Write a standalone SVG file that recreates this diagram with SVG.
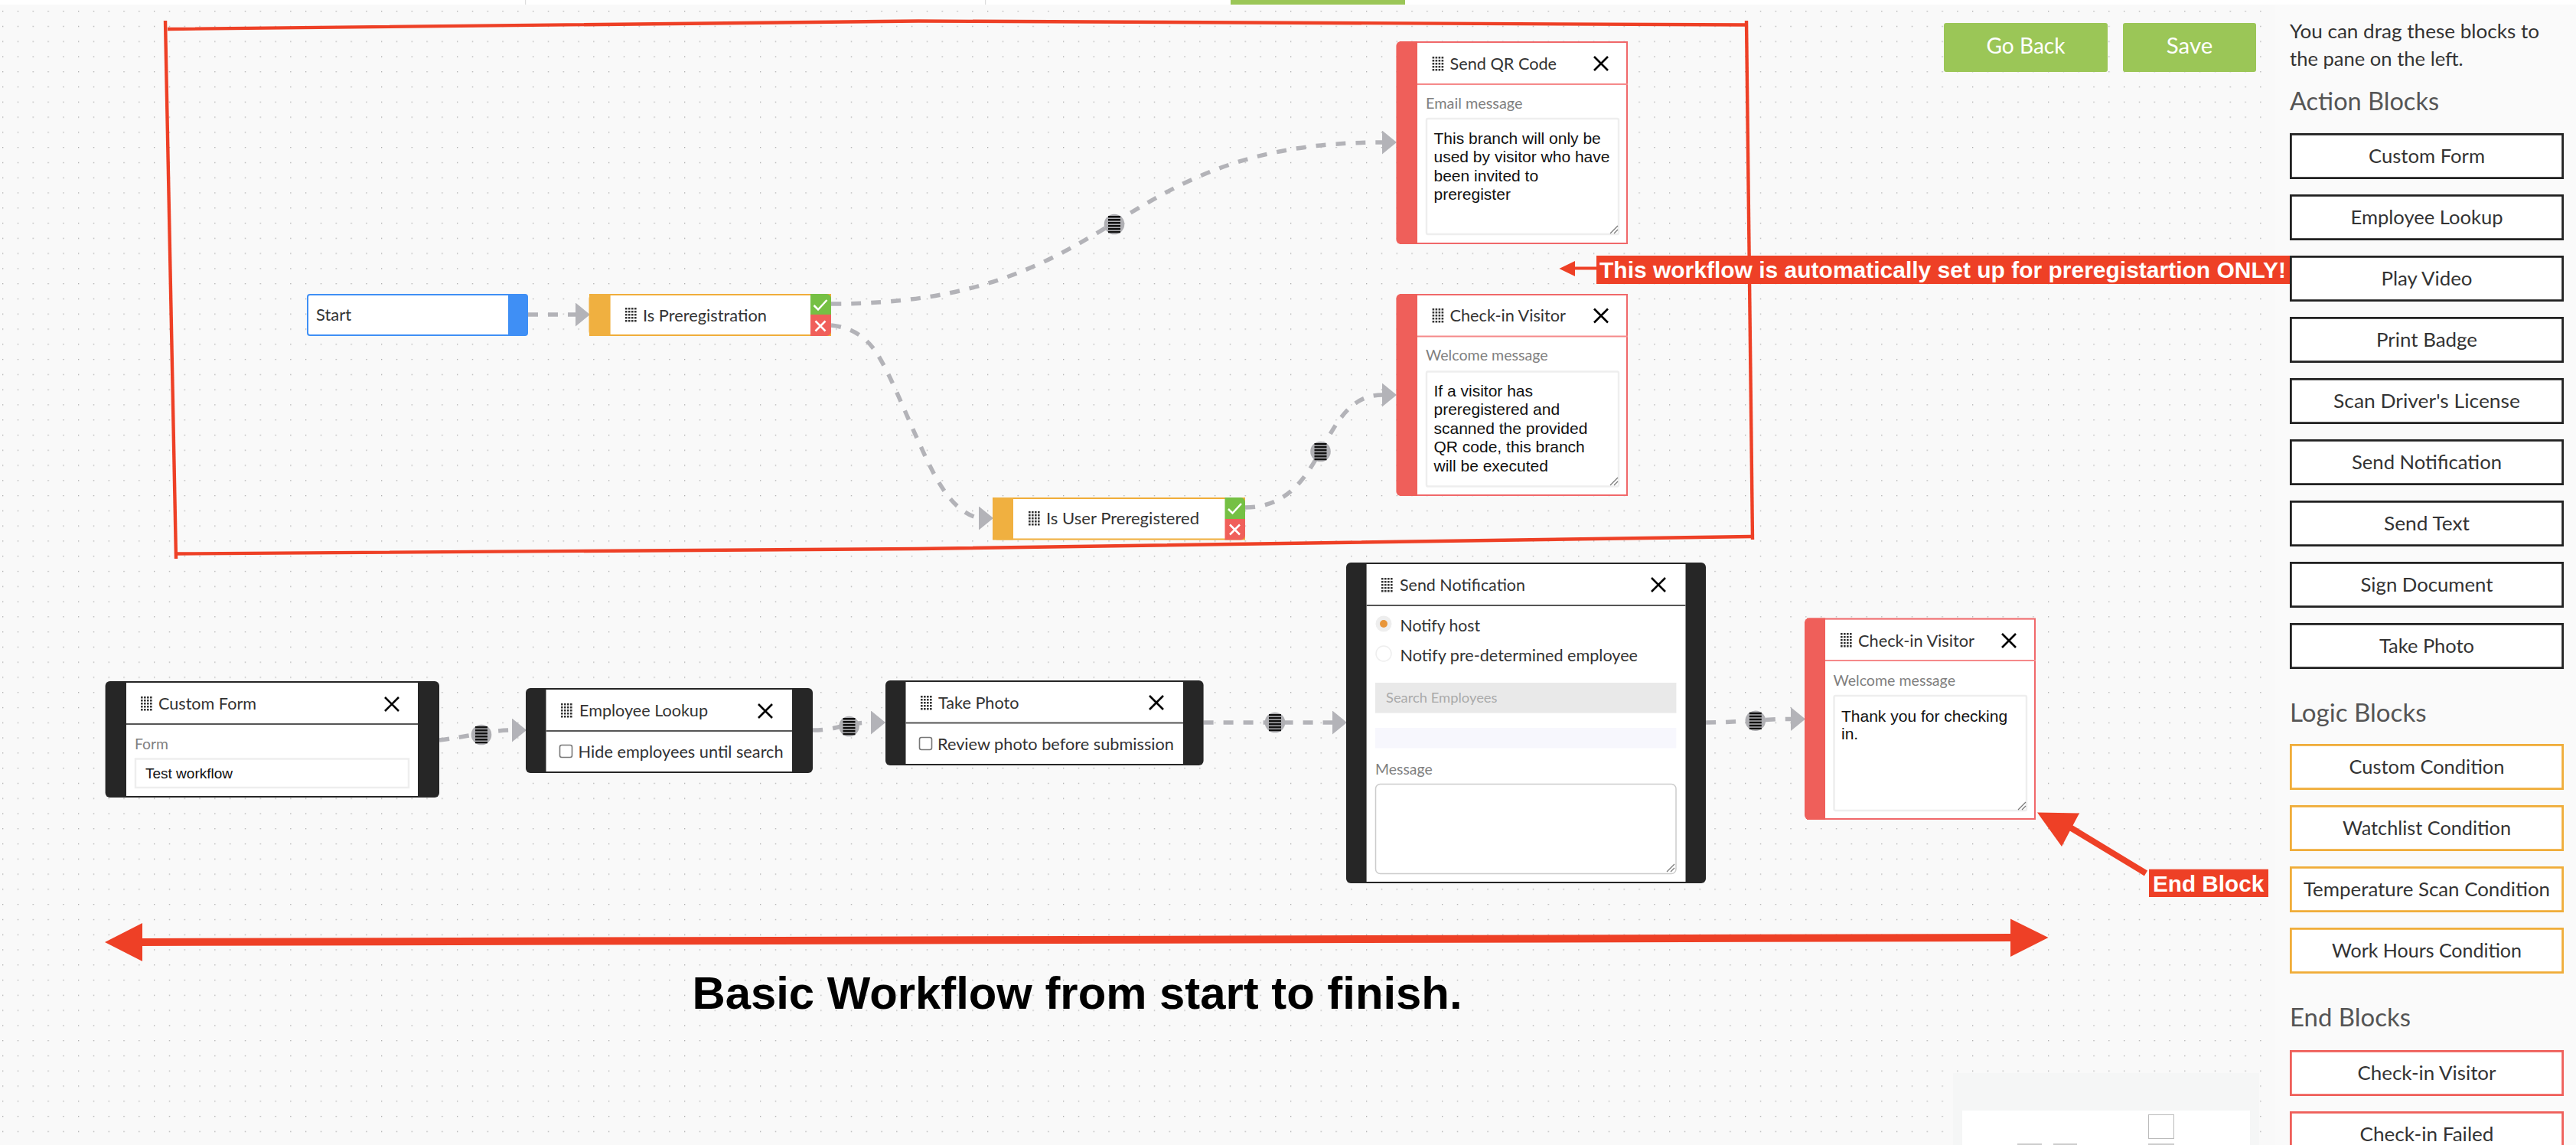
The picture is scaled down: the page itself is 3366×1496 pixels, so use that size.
<svg xmlns="http://www.w3.org/2000/svg" xmlns:xlink="http://www.w3.org/1999/xlink" width="3366" height="1496" viewBox="0 0 3366 1496">
<style>
text{font-family:"Lato","Noto Sans",sans-serif}
.ttl{font-size:22px;fill:#333}
.lbl{font-size:20px;fill:#808080}
.body{font-size:22px;fill:#333}
.ar{font-family:"Liberation Sans",Arial,sans-serif;fill:#111}
.bt{font-size:25.5px;fill:#333;text-anchor:middle}
.hd{font-size:32px;fill:#555}
.an{font-family:"Liberation Sans",Arial,sans-serif;font-weight:700;font-size:29.7px;fill:#fff}
.blk{fill:#fff;stroke:#222;stroke-width:2.8}
.org{fill:#fff;stroke:#f0ad3a;stroke-width:2.8}
.red{fill:#fff;stroke:#ef5f5a;stroke-width:2.8}
.norg{fill:#fff;stroke:#f0ad3a;stroke-width:2}
.nred{fill:#fff;stroke:#f0686a;stroke-width:2}
.dash{fill:none;stroke:#b3b3b8;stroke-width:5.5;stroke-dasharray:13 13;marker-end:url(#tri)}
.rl{fill:none;stroke:#ee4026}
.rf{fill:#ee4026}
.x{fill:none;stroke:#000;stroke-width:2.6}
.ta{fill:#fff;stroke:#eee;stroke-width:2.5}
.cb{fill:#fff;stroke:#777;stroke-width:1.6}
</style>
<defs>
<pattern id="dots" patternUnits="userSpaceOnUse" x="3" y="14" width="19.8" height="19.78"><rect width="1.3" height="1.3" fill="#aaa"/></pattern>
<marker id="tri" markerUnits="userSpaceOnUse" markerWidth="19" markerHeight="31" refX="0" refY="15.5" orient="0"><path d="M0 0L19 15.5L0 31Z" fill="#b3b3b8"/></marker>
<g id="grip" fill="#333"><path d="M0 0h2.600v2.600h-2.600zM4 0h2.600v2.600h-2.600zM8 0h2.600v2.600h-2.600zM12 0h2.600v2.600h-2.600zM0 4h2.600v2.600h-2.600zM4 4h2.600v2.600h-2.600zM8 4h2.600v2.600h-2.600zM12 4h2.600v2.600h-2.600zM0 8h2.600v2.600h-2.600zM4 8h2.600v2.600h-2.600zM8 8h2.600v2.600h-2.600zM12 8h2.600v2.600h-2.600zM0 12h2.600v2.600h-2.600zM4 12h2.600v2.600h-2.600zM8 12h2.600v2.600h-2.600zM12 12h2.600v2.600h-2.600zM0 16h2.600v2.600h-2.600zM4 16h2.600v2.600h-2.600zM8 16h2.600v2.600h-2.600zM12 16h2.600v2.600h-2.600z"/></g>
<path id="xx" class="x" d="M0 0L18 18M18 0L0 18"/>
<path id="rsz" d="M0 10L10 0M5 10L10 5" fill="none" stroke="#777" stroke-width="1.2"/>
<g id="hdl"><circle r="13.300" fill="#b0b0b4"/><path d="M-8 -11h16v2.600h-16zM-8 -7h16v2.600h-16zM-8 -3h16v2.600h-16zM-8 1h16v2.600h-16zM-8 5h16v2.600h-16zM-8 9h16v2.200h-16z" fill="#111"/></g>
<g id="ok"><path d="M-8.500 1L-3 6.500L8.500 -6" fill="none" stroke="#fff" stroke-width="2.500"/></g>
<g id="no"><path d="M-6.500 -6.500L6.500 6.500M6.500 -6.500L-6.500 6.500" fill="none" stroke="#fff" stroke-width="2.500"/></g>
</defs>
<rect width="3366" height="1496" fill="#fff"/>
<rect x="0" y="6" width="2973" height="1490" fill="#f9f9f9"/>
<rect x="2973" y="6" width="393" height="1490" fill="#fafafa"/>
<rect x="0" y="6" width="2973" height="1490" fill="url(#dots)"/>
<rect x="686" y="0" width="1.2" height="6" fill="#ddd"/>
<rect x="1287" y="0" width="1.2" height="6" fill="#ddd"/>
<rect x="1608" y="0" width="228" height="6" fill="#9bc657"/>

<g id="minimap">
<rect x="2552" y="1402" width="400" height="94" fill="#f5f6f6"/>
<rect x="2564" y="1451" width="376" height="45" fill="#fff"/>
<rect x="2807.500" y="1456.500" width="33" height="31" fill="#fff" stroke="#bbb" stroke-width="1"/>
<rect x="2636" y="1494" width="32" height="2" fill="#ccc"/>
<rect x="2683" y="1494" width="31" height="2" fill="#ccc"/>
<rect x="2807" y="1494" width="34" height="2" fill="#ccc"/>
</g>

<g id="red-box">
<path class="rl" stroke-width="4.400" d="M216 27L230 730"/>
<path class="rl" stroke-width="4.400" d="M219 38L1200 27.500L2282 32.500"/>
<path class="rl" stroke-width="4.400" d="M2282 27L2290 705"/>
<path class="rl" stroke-width="4.400" d="M230 723.500L1200 717L2290 701"/>
</g>

<g id="connectors">
<path class="dash" d="M690 411L752 411"/>
<path class="dash" d="M1086 397C1470 397 1446 186 1806 186"/>
<path class="dash" d="M1086 425C1115 428 1133 442 1146 462C1165 492 1185 545 1203 583C1222 625 1243 668 1279 677"/>
<path class="dash" d="M1627 663C1735 663 1722 516 1806 516"/>
<path class="dash" d="M574 967C610 963 640 954 669 954"/>
<path class="dash" d="M1062 954C1095 954 1105 944 1138 944"/>
<path class="dash" d="M1572.600 944L1741 944"/>
<path class="dash" d="M2229 944C2270 944 2300 939.500 2340 939.500"/>
<use href="#hdl" x="1456" y="293"/>
<use href="#hdl" x="1725.500" y="590"/>
<use href="#hdl" x="629" y="960"/>
<use href="#hdl" x="1109.500" y="949"/>
<use href="#hdl" x="1666" y="944"/>
<use href="#hdl" x="2293.800" y="941.700"/>
</g>

<g id="node-start">
<rect x="402" y="385" width="287" height="53" rx="3" fill="#fff" stroke="#3f8ff5" stroke-width="2"/>
<path d="M664 384H684a6 6 0 0 1 6 6V433a6 6 0 0 1-6 6H664Z" fill="#3f8ff5"/>
<text class="body" x="413" y="419" textLength="46" lengthAdjust="spacingAndGlyphs">Start</text>
</g>

<g id="node-is-preregistration">
<rect x="771" y="385" width="314" height="53" class="norg"/>
<path d="M797.600 384H775.500a6 6 0 0 0-6 6V433a6 6 0 0 0 6 6H797.600Z" fill="#f0b040"/>
<path d="M1059 384H1080a6 6 0 0 1 6 6V411H1059Z" fill="#75c044"/>
<path d="M1059 411H1086V433a6 6 0 0 1-6 6H1059Z" fill="#f05f5a"/>
<use href="#ok" x="1072" y="398"/><use href="#no" x="1072" y="426"/>
<use href="#grip" x="817" y="402"/>
<text class="body" x="840" y="420" textLength="162" lengthAdjust="spacingAndGlyphs">Is Preregistration</text>
</g>

<g id="node-is-user-preregistered">
<rect x="1298" y="651" width="328" height="53.500" class="norg"/>
<path d="M1324 650H1303a6 6 0 0 0-6 6V699.500a6 6 0 0 0 6 6H1324Z" fill="#f0b040"/>
<path d="M1600.500 650H1621a6 6 0 0 1 6 6V678H1600.500Z" fill="#75c044"/>
<path d="M1600.500 678H1627V699.500a6 6 0 0 1-6 6H1600.500Z" fill="#f05f5a"/>
<use href="#ok" x="1613.500" y="664"/><use href="#no" x="1613.500" y="692"/>
<use href="#grip" x="1344" y="668"/>
<text class="body" x="1367" y="685" textLength="200" lengthAdjust="spacingAndGlyphs">Is User Preregistered</text>
</g>

<g id="node-send-qr-code">
<rect x="1830" y="55" width="296" height="263" class="nred"/>
<path d="M1852 54H1830.400a6 6 0 0 0-6 6V313a6 6 0 0 0 6 6H1852Z" fill="#ef5f5a"/>
<path d="M1852 110H2127" stroke="#f5898a" stroke-width="2"/>
<use href="#grip" x="1871.600" y="74"/>
<text class="ttl" x="1894.500" y="91" textLength="139.500" lengthAdjust="spacingAndGlyphs">Send QR Code</text>
<use href="#xx" x="2083" y="74"/>
<text class="lbl" x="1863" y="141.600" textLength="126.500" lengthAdjust="spacingAndGlyphs">Email message</text>
<rect x="1864" y="155" width="251" height="151" rx="2" class="ta"/>
<text class="ar" font-size="21" x="1873.500" y="188">This branch will only be</text>
<text class="ar" font-size="21" x="1873.500" y="212.300">used by visitor who have</text>
<text class="ar" font-size="21" x="1873.500" y="236.600">been invited to</text>
<text class="ar" font-size="21" x="1873.500" y="261">preregister</text>
<use href="#rsz" x="2104" y="295"/>
</g>

<g id="node-check-in-visitor-top">
<rect x="1830" y="385" width="296" height="262" class="nred"/>
<path d="M1852 384H1830.400a6 6 0 0 0-6 6V642a6 6 0 0 0 6 6H1852Z" fill="#ef5f5a"/>
<path d="M1852 439.500H2127" stroke="#f5898a" stroke-width="2"/>
<use href="#grip" x="1871.600" y="403"/>
<text class="ttl" x="1894.500" y="420" textLength="151.500" lengthAdjust="spacingAndGlyphs">Check-in Visitor</text>
<use href="#xx" x="2083" y="403.500"/>
<text class="lbl" x="1863" y="471" textLength="159.700" lengthAdjust="spacingAndGlyphs">Welcome message</text>
<rect x="1864" y="485.500" width="251" height="150" rx="2" class="ta"/>
<text class="ar" font-size="21" x="1873.500" y="518">If a visitor has</text>
<text class="ar" font-size="21" x="1873.500" y="542.400">preregistered and</text>
<text class="ar" font-size="21" x="1873.500" y="566.800">scanned the provided</text>
<text class="ar" font-size="21" x="1873.500" y="591.200">QR code, this branch</text>
<text class="ar" font-size="21" x="1873.500" y="615.600">will be executed</text>
<use href="#rsz" x="2104" y="624"/>
</g>

<g id="node-custom-form">
<rect x="137.600" y="890" width="436.400" height="152" rx="6" fill="#262626"/>
<rect x="165" y="892" width="381" height="148" fill="#fff"/>
<path d="M165 946H546" stroke="#555" stroke-width="2"/>
<use href="#grip" x="184" y="910"/>
<text class="ttl" x="207" y="927" textLength="128" lengthAdjust="spacingAndGlyphs">Custom Form</text>
<use href="#xx" x="503" y="911"/>
<text class="lbl" x="176" y="979" textLength="44" lengthAdjust="spacingAndGlyphs">Form</text>
<rect x="177" y="991.500" width="357" height="37.500" class="ta"/>
<text class="ar" font-size="19" x="190" y="1017">Test workflow</text>
</g>

<g id="node-employee-lookup">
<rect x="687" y="899" width="375" height="111" rx="6" fill="#262626"/>
<rect x="713.500" y="901" width="321.500" height="107" fill="#fff"/>
<path d="M713.500 955H1035" stroke="#555" stroke-width="2"/>
<use href="#grip" x="733" y="919"/>
<text class="ttl" x="757" y="936" textLength="168" lengthAdjust="spacingAndGlyphs">Employee Lookup</text>
<use href="#xx" x="991" y="920"/>
<rect x="731.500" y="973.500" width="16" height="16" rx="2.500" class="cb"/>
<text class="body" x="755.600" y="990" textLength="268" lengthAdjust="spacingAndGlyphs">Hide employees until search</text>
</g>

<g id="node-take-photo">
<rect x="1157" y="889" width="415.600" height="111" rx="6" fill="#262626"/>
<rect x="1183.500" y="891" width="362.500" height="107" fill="#fff"/>
<path d="M1183.500 944.600H1546" stroke="#555" stroke-width="2"/>
<use href="#grip" x="1203" y="909"/>
<text class="ttl" x="1226" y="926" textLength="105.500" lengthAdjust="spacingAndGlyphs">Take Photo</text>
<use href="#xx" x="1502" y="909"/>
<rect x="1201.500" y="963.500" width="16" height="16" rx="2.500" class="cb"/>
<text class="body" x="1225" y="979.500" textLength="309" lengthAdjust="spacingAndGlyphs">Review photo before submission</text>
</g>

<g id="node-send-notification">
<rect x="1759" y="735" width="470" height="419" rx="6" fill="#262626"/>
<rect x="1785.600" y="737" width="416.900" height="415" fill="#fff"/>
<path d="M1785.600 791H2202.500" stroke="#555" stroke-width="2"/>
<use href="#grip" x="1805" y="755"/>
<text class="ttl" x="1829" y="772" textLength="164" lengthAdjust="spacingAndGlyphs">Send Notification</text>
<use href="#xx" x="2158" y="755"/>
<circle cx="1808" cy="815" r="10.500" fill="#eee"/><circle cx="1808" cy="815" r="5" fill="#e8963a"/>
<text class="body" x="1829.600" y="825" textLength="104.400" lengthAdjust="spacingAndGlyphs">Notify host</text>
<circle cx="1808" cy="854" r="10" fill="#fff" stroke="#eee" stroke-width="1.500"/>
<text class="body" x="1829.600" y="863.500" textLength="310.400" lengthAdjust="spacingAndGlyphs">Notify pre-determined employee</text>
<rect x="1797" y="892" width="393.400" height="39.600" fill="#e9e9e9"/>
<text x="1811" y="918" font-size="18" fill="#aaa" textLength="145.500" lengthAdjust="spacingAndGlyphs">Search Employees</text>
<rect x="1797" y="951" width="393.400" height="26.500" fill="#f7f7fd"/>
<text class="lbl" x="1797" y="1011.600" textLength="74.700" lengthAdjust="spacingAndGlyphs">Message</text>
<rect x="1797.500" y="1024.500" width="392.500" height="117" rx="6" fill="#fff" stroke="#ccc" stroke-width="1.500"/>
<use href="#rsz" x="2178" y="1129"/>
</g>

<g id="node-check-in-visitor-end">
<rect x="2362" y="808.600" width="297" height="261.400" class="nred"/>
<path d="M2385 807.600H2364a6 6 0 0 0-6 6V1065a6 6 0 0 0 6 6H2385Z" fill="#ef5f5a"/>
<path d="M2385 863H2660" stroke="#f5898a" stroke-width="2"/>
<use href="#grip" x="2405" y="827"/>
<text class="ttl" x="2428" y="845" textLength="152" lengthAdjust="spacingAndGlyphs">Check-in Visitor</text>
<use href="#xx" x="2616" y="828"/>
<text class="lbl" x="2395.500" y="895.700" textLength="159.500" lengthAdjust="spacingAndGlyphs">Welcome message</text>
<rect x="2396.500" y="909" width="251.500" height="150" rx="2" class="ta"/>
<text class="ar" font-size="21" x="2406" y="942.700">Thank you for checking</text>
<text class="ar" font-size="21" x="2406" y="966">in.</text>
<use href="#rsz" x="2637" y="1048"/>
</g>

<g id="annotation-preregistration">
<path class="rl" stroke-width="4" d="M2056 350.500H2088"/>
<path class="rf" d="M2037.400 351L2058 341V361Z"/>
<rect class="rf" x="2086" y="334" width="906.600" height="37"/>
<text class="an" x="2090" y="363" textLength="897" lengthAdjust="spacingAndGlyphs">This workflow is automatically set up for preregistartion ONLY!</text>
</g>

<g id="annotation-end-block">
<path class="rl" stroke-width="8" d="M2804 1141L2700 1078"/>
<path class="rf" d="M2662 1061.500L2717 1062.500L2694 1106Z"/>
<rect class="rf" x="2808" y="1135.700" width="156" height="36.300"/>
<text class="an" x="2813" y="1164.600">End Block</text>
</g>

<g id="annotation-basic">
<path class="rl" stroke-width="10" d="M180 1231L2630 1225"/>
<path class="rf" d="M137 1231L186 1206V1256Z"/>
<path class="rf" d="M2676.500 1225L2627 1200.600V1250Z"/>
<text x="904.500" y="1318" font-size="60" font-weight="700" style="font-family:'Liberation Sans',Arial,sans-serif" fill="#000" textLength="1006" lengthAdjust="spacingAndGlyphs">Basic Workflow from start to finish.</text>
</g>

<g id="toolbar">
<rect x="2540" y="30" width="214" height="64" rx="3" fill="#9bc657"/>
<text x="2647" y="70" font-size="28" fill="#fff" text-anchor="middle" textLength="103" lengthAdjust="spacingAndGlyphs">Go Back</text>
<rect x="2774" y="30" width="174" height="64" rx="3" fill="#9bc657"/>
<text x="2861" y="70" font-size="28" fill="#fff" text-anchor="middle" textLength="60.500" lengthAdjust="spacingAndGlyphs">Save</text>
</g>

<g id="sidebar">
<text x="2992" y="50" font-size="25" fill="#333" textLength="326" lengthAdjust="spacingAndGlyphs">You can drag these blocks to</text>
<text x="2992" y="86" font-size="25" fill="#333" textLength="226.600" lengthAdjust="spacingAndGlyphs">the pane on the left.</text>
<text class="hd" x="2992" y="144" textLength="195" lengthAdjust="spacingAndGlyphs">Action Blocks</text>
<rect class="blk" x="2993.400" y="175.400" width="355.200" height="57.200"/><text class="bt" x="3171" y="212.500" textLength="152" lengthAdjust="spacingAndGlyphs">Custom Form</text>
<rect class="blk" x="2993.400" y="255.400" width="355.200" height="57.200"/><text class="bt" x="3171" y="292.500" textLength="199" lengthAdjust="spacingAndGlyphs">Employee Lookup</text>
<rect class="blk" x="2993.400" y="335.400" width="355.200" height="57.200"/><text class="bt" x="3171" y="372.500" textLength="119" lengthAdjust="spacingAndGlyphs">Play Video</text>
<rect class="blk" x="2993.400" y="415.400" width="355.200" height="57.200"/><text class="bt" x="3171" y="452.500" textLength="132" lengthAdjust="spacingAndGlyphs">Print Badge</text>
<rect class="blk" x="2993.400" y="495.400" width="355.200" height="57.200"/><text class="bt" x="3171" y="532.500" textLength="244" lengthAdjust="spacingAndGlyphs">Scan Driver's License</text>
<rect class="blk" x="2993.400" y="575.400" width="355.200" height="57.200"/><text class="bt" x="3171" y="612.500" textLength="196" lengthAdjust="spacingAndGlyphs">Send Notification</text>
<rect class="blk" x="2993.400" y="655.400" width="355.200" height="57.200"/><text class="bt" x="3171" y="692.500" textLength="112" lengthAdjust="spacingAndGlyphs">Send Text</text>
<rect class="blk" x="2993.400" y="735.400" width="355.200" height="57.200"/><text class="bt" x="3171" y="772.500" textLength="173" lengthAdjust="spacingAndGlyphs">Sign Document</text>
<rect class="blk" x="2993.400" y="815.400" width="355.200" height="57.200"/><text class="bt" x="3171" y="852.500" textLength="124" lengthAdjust="spacingAndGlyphs">Take Photo</text>
<text class="hd" x="2992" y="943" textLength="178.600" lengthAdjust="spacingAndGlyphs">Logic Blocks</text>
<rect class="org" x="2993.400" y="973.400" width="355.200" height="57.200"/><text class="bt" x="3171" y="1010.500" textLength="203" lengthAdjust="spacingAndGlyphs">Custom Condition</text>
<rect class="org" x="2993.400" y="1053.400" width="355.200" height="57.200"/><text class="bt" x="3171" y="1090.500" textLength="220" lengthAdjust="spacingAndGlyphs">Watchlist Condition</text>
<rect class="org" x="2993.400" y="1133.400" width="355.200" height="57.200"/><text class="bt" x="3171" y="1170.500" textLength="322" lengthAdjust="spacingAndGlyphs">Temperature Scan Condition</text>
<rect class="org" x="2993.400" y="1213.400" width="355.200" height="57.200"/><text class="bt" x="3171" y="1250.500" textLength="248" lengthAdjust="spacingAndGlyphs">Work Hours Condition</text>
<text class="hd" x="2992" y="1341" textLength="158" lengthAdjust="spacingAndGlyphs">End Blocks</text>
<rect class="red" x="2993.400" y="1373.400" width="355.200" height="57.200"/><text class="bt" x="3171" y="1410.500" textLength="181" lengthAdjust="spacingAndGlyphs">Check-in Visitor</text>
<rect class="red" x="2993.400" y="1453.400" width="355.200" height="57.200"/><text class="bt" x="3171" y="1490.500" textLength="175" lengthAdjust="spacingAndGlyphs">Check-in Failed</text>
</g>
</svg>
